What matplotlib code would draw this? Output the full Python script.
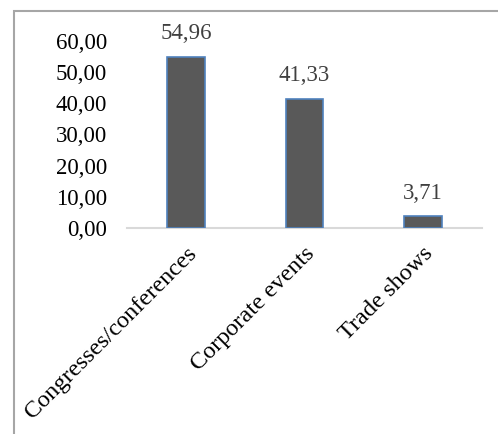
import matplotlib
matplotlib.use("Agg")
import matplotlib.pyplot as plt
from matplotlib.patches import Rectangle

categories = ["Congresses/conferences", "Corporate events", "Trade shows"]
values = [54.96, 41.33, 3.71]
yticks = [0, 10, 20, 30, 40, 50, 60]

plt.rcParams['font.family'] = ['Liberation Serif', 'DejaVu Serif']

fig = plt.figure(figsize=(4.98, 4.34), dpi=100)
ax = fig.add_axes([127/498, 1-228/434, (482-127)/498, (228-41)/434])

x = list(range(len(categories)))
ax.bar(x, values, width=0.32, color='#595959', edgecolor='#4F81BD', linewidth=1.2, zorder=3)
for xi, v in zip(x, values):
    ax.text(xi, v + 7.5, f"{v:.2f}".replace('.', ','), ha='center', va='center',
            fontsize=16.5, color='#404040')

ax.set_xlim(-0.5, 2.5)
ax.set_ylim(0, 60)
ax.set_yticks(yticks)
ax.set_yticklabels([f"{t:.2f}".replace('.', ',') for t in yticks], fontsize=16.5, color='black')
ax.set_xticks(x)
ax.set_xticklabels(categories, rotation=45, ha='right', rotation_mode='anchor', fontsize=17.5)
ax.tick_params(axis='both', length=0)
ax.tick_params(axis='y', pad=14.5)
ax.tick_params(axis='x', pad=11)
for s in ['top', 'right', 'left']:
    ax.spines[s].set_visible(False)
ax.spines['bottom'].set_color('#D9D9D9')
ax.spines['bottom'].set_linewidth(1.5)

fig.patches.append(Rectangle((14/498, -0.2), 1.2, 0.2 + (1-11/434), transform=fig.transFigure,
                             fill=False, edgecolor='#A6A6A6', linewidth=1.5))

fig.savefig("out.png", dpi=100)
